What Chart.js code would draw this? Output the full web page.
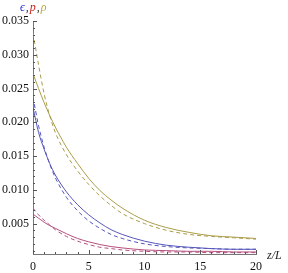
<!DOCTYPE html>
<html>
<head>
<meta charset="utf-8">
<script src="https://cdn.jsdelivr.net/npm/chart.js@4"></script>
<style>
  html, body { margin: 0; padding: 0; background: #fff; }
  #wrap { width: 288px; height: 273px; position: relative; }
</style>
</head>
<body>
<div id="wrap"><canvas id="chart"></canvas></div>
<script>
// z/L sample positions
const zVals = [0, 0.5, 1, 1.5, 2, 3, 4, 5, 6, 7, 8, 10, 12, 14, 16, 18, 20];

// epsilon (blue)
const epsSolid  = [0.0222, 0.0185, 0.0160, 0.0139, 0.0122, 0.0097, 0.0078, 0.0063, 0.0051, 0.0041, 0.0034, 0.0024, 0.0018, 0.0015, 0.0013, 0.0012, 0.0012];
const epsDashed = [0.0237, 0.0195, 0.0163, 0.0138, 0.0118, 0.0089, 0.0069, 0.0054, 0.0043, 0.0034, 0.0028, 0.0020, 0.0016, 0.0014, 0.0013, 0.0012, 0.0012];

// p (red)
const pSolid  = [0.0064, 0.0058, 0.0052, 0.0047, 0.0043, 0.0035, 0.0028, 0.0023, 0.0019, 0.0016, 0.0014, 0.0011, 0.0010, 0.0009, 0.0009, 0.0008, 0.0008];
const pDashed = [0.0073, 0.0063, 0.0055, 0.0048, 0.0041, 0.0031, 0.0024, 0.0019, 0.0015, 0.0013, 0.0011, 0.0009, 0.0008, 0.0008, 0.0007, 0.0007, 0.0007];

// rho (olive)
const rhoSolid  = [0.0272, 0.0250, 0.0229, 0.0210, 0.0193, 0.0163, 0.0139, 0.0117, 0.0099, 0.0085, 0.0073, 0.0055, 0.0044, 0.0037, 0.0032, 0.0030, 0.0028];
const rhoDashed = [0.0332, 0.0285, 0.0242, 0.0210, 0.0185, 0.0152, 0.0128, 0.0108, 0.0091, 0.0077, 0.0065, 0.0050, 0.0040, 0.0034, 0.0031, 0.0029, 0.0027];

const xTicks = [0, 5, 10, 15, 20];
const yTicks = [0.005, 0.010, 0.015, 0.020, 0.025, 0.030, 0.035];

const BLUE = '#5555bb';
const RED = '#b5507f';
const OLIVE = '#aa9c4a';
const SERIF = '"Liberation Serif", "DejaVu Serif", serif';

function pts(ys) {
    return zVals.map((z, i) => ({ x: z, y: ys[i] }));
}

function series(ys, color, dashed) {
    return {
        data: pts(ys),
        borderColor: color,
        borderWidth: 1,
        borderDash: dashed ? [4, 3] : [],
        pointRadius: 0,
        cubicInterpolationMode: 'monotone',
        fill: false
    };
}

// Mathematica-style inward ticks + axis captions
const axisDecor = {
    id: 'axisDecor',
    afterDraw(chart) {
        const ctx = chart.ctx;
        const xs = chart.scales.x, ys = chart.scales.y;
        const x0 = xs.left, y0 = ys.bottom;
        ctx.save();
        ctx.strokeStyle = '#555';
        ctx.lineWidth = 1;
        ctx.beginPath();
        for (let v = 0; v <= 20; v += 1) {
            const px = Math.round(xs.getPixelForValue(v)) + 0.5;
            const len = v % 5 === 0 ? 4 : 2;
            ctx.moveTo(px, y0);
            ctx.lineTo(px, y0 - len);
        }
        for (let k = 1; k <= 35; k++) {
            const py = Math.round(ys.getPixelForValue(k / 1000)) + 0.5;
            const len = k % 5 === 0 ? 4 : 2;
            ctx.moveTo(x0, py);
            ctx.lineTo(x0 + len, py);
        }
        ctx.stroke();

        ctx.font = 'italic 12px ' + SERIF;
        ctx.textBaseline = 'alphabetic';
        ctx.textAlign = 'left';
        const parts = [['\u03f5', '#3333cc'], [',', '#333'], ['p', '#cc2222'], [',', '#333'], ['\u03c1', '#b8a830']];
        let tx = 20;
        parts.forEach(([t, c]) => {
            ctx.fillStyle = c;
            ctx.fillText(t, tx, 11);
            tx += ctx.measureText(t).width + 1;
        });
        ctx.fillStyle = '#222';
        ctx.fillText('z/L', 267, 259);
        ctx.restore();
    }
};

new Chart(document.getElementById('chart'), {
    type: 'line',
    data: {
        datasets: [
            series(rhoDashed, OLIVE, true),
            series(rhoSolid, OLIVE, false),
            series(epsDashed, BLUE, true),
            series(epsSolid, BLUE, false),
            series(pDashed, RED, true),
            series(pSolid, RED, false)
        ]
    },
    options: {
        responsive: true,
        maintainAspectRatio: false,
        animation: false,
        layout: { padding: { top: 21, right: 32, left: 0, bottom: 0 } },
        plugins: { legend: { display: false }, tooltip: { enabled: false } },
        scales: {
            x: {
                type: 'linear',
                min: 0,
                max: 20,
                afterBuildTicks: s => { s.ticks = xTicks.map(v => ({ value: v })); },
                afterFit: s => { s.height = 19; },
                grid: { display: false, drawTicks: false },
                border: { display: true, color: '#777', width: 1 },
                ticks: { color: '#111', font: { family: SERIF, size: 12 }, padding: 6, maxRotation: 0 }
            },
            y: {
                type: 'linear',
                min: 0.0005,
                max: 0.035,
                afterBuildTicks: s => { s.ticks = yTicks.map(v => ({ value: v })); },
                afterFit: s => { s.width = 33; },
                grid: { display: false, drawTicks: false },
                border: { display: true, color: '#777', width: 1 },
                ticks: {
                    color: '#111',
                    font: { family: SERIF, size: 12 },
                    padding: 4,
                    callback: v => v.toFixed(3)
                }
            }
        }
    },
    plugins: [axisDecor]
});
</script>
</body>
</html>
